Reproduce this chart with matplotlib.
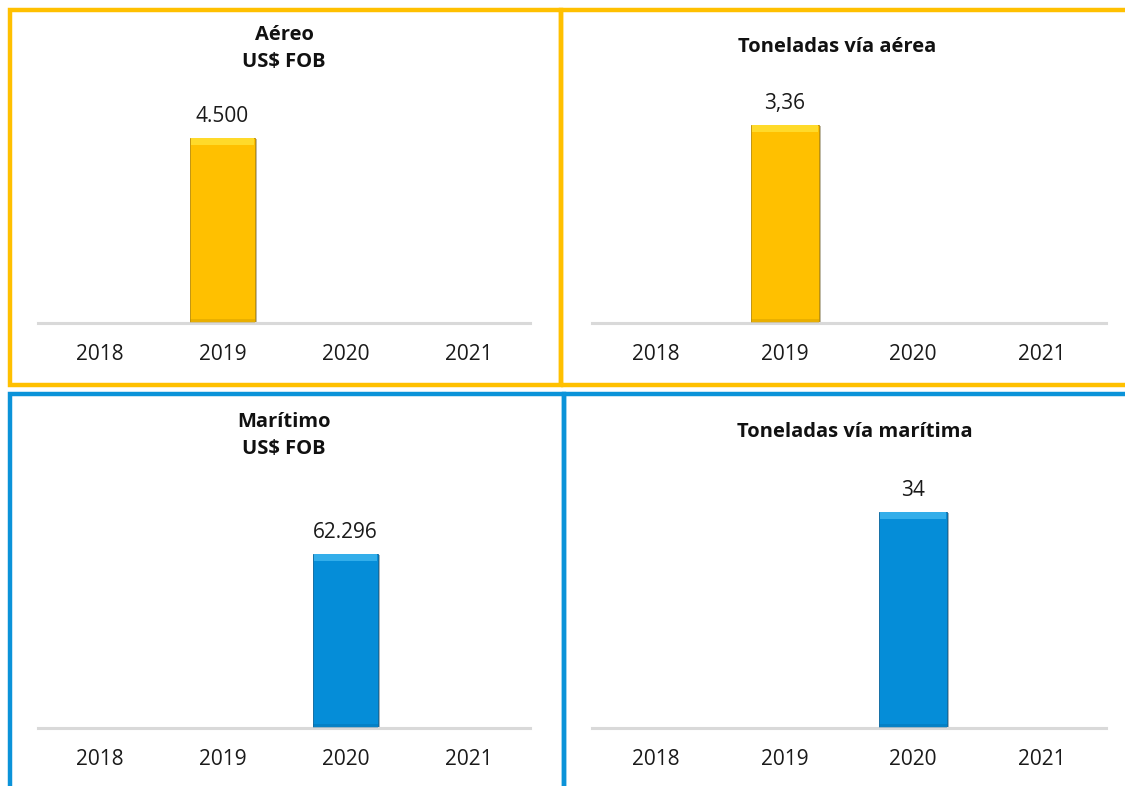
import matplotlib.pyplot as plt
from matplotlib.patches import Rectangle
import matplotlib.patheffects as pe

plt.rcParams['font.family'] = ['Open Sans', 'DejaVu Sans']

W, H = 1125, 786

years = ["2018", "2019", "2020", "2021"]
aereo_usd = [0, 4500, 0, 0]
aereo_ton = [0, 3.36, 0, 0]
maritimo_usd = [0, 0, 62296, 0]
maritimo_ton = [0, 0, 34, 0]

aereo_usd_labels = ["", "4.500", "", ""]
aereo_ton_labels = ["", "3,36", "", ""]
maritimo_usd_labels = ["", "", "62.296", ""]
maritimo_ton_labels = ["", "", "34", ""]

YELLOW = "#FFC000"
YELLOW_LIGHT = "#FFDA2A"
YELLOW_DARK = "#B88A00"
BLUE = "#058DD8"
BLUE_LIGHT = "#33AEEA"
BLUE_DARK = "#04629A"
ORANGE_FRAME = "#FFC000"
BLUE_FRAME = "#0B93D9"


def fig_rect(x0, y0, x1, y1):
    """ pixel box (top-left origin) -> figure fraction rect """
    return [x0 / W, 1 - y1 / H, (x1 - x0) / W, (y1 - y0) / H]


def draw_panel(fig, box, values, labels, color, light, dark, ymax):
    ax = fig.add_axes(fig_rect(*box))
    x = range(len(years))
    bars = ax.bar(x, values, width=0.53, color=color, edgecolor=dark, linewidth=0.6, zorder=2)
    for b in bars:
        b.set_path_effects([pe.SimplePatchShadow(offset=(1.5, -1), alpha=0.35), pe.Normal()])
    # bevel highlight on the top of each bar
    bevel = ymax * 0.03
    for xi, v in zip(x, values):
        if v > 0:
            ax.bar(xi, bevel, bottom=v - bevel, width=0.51, color=light, linewidth=0, zorder=3)
            ax.bar(xi, bevel * 0.5, bottom=0, width=0.53, color=dark, alpha=0.3, linewidth=0, zorder=3)
    for xi, v, lab in zip(x, values, labels):
        if lab:
            ax.annotate(lab, (xi, v), xytext=(0, 8), textcoords="offset points",
                        ha="center", va="bottom", fontsize=15, color="#1a1a1a")
    ax.set_xlim(-0.5, 3.5)
    ax.set_ylim(0, ymax)
    ax.set_xticks(list(x))
    ax.set_xticklabels(years, fontsize=15, color="#1a1a1a")
    ax.tick_params(axis="x", length=0, pad=15)
    ax.set_yticks([])
    for s in ["top", "right", "left"]:
        ax.spines[s].set_visible(False)
    ax.spines["bottom"].set_color("#D9D9D9")
    ax.spines["bottom"].set_linewidth(2.2)
    ax.patch.set_alpha(0)
    return ax


fig = plt.figure(figsize=(W / 100, H / 100), dpi=100)

# panel frames
frames = [
    ((9.5, 10, 561, 385), ORANGE_FRAME),
    ((561, 10, 1135, 385), ORANGE_FRAME),
    ((10, 393.5, 564, 800), BLUE_FRAME),
    ((564, 393.5, 1135, 800), BLUE_FRAME),
]
for (x0, y0, x1, y1), c in frames:
    fig.patches.append(Rectangle((x0 / W, 1 - y1 / H), (x1 - x0) / W, (y1 - y0) / H,
                                 transform=fig.transFigure, fill=False, edgecolor=c,
                                 linewidth=3.2, zorder=0))

draw_panel(fig, (38, 80, 530, 323), aereo_usd, aereo_usd_labels, YELLOW,
           YELLOW_LIGHT, YELLOW_DARK, 4500 * 243 / 185)
draw_panel(fig, (592, 80, 1106, 323), aereo_ton, aereo_ton_labels, YELLOW,
           YELLOW_LIGHT, YELLOW_DARK, 3.36 * 243 / 198)
draw_panel(fig, (38, 485, 530, 728), maritimo_usd, maritimo_usd_labels, BLUE,
           BLUE_LIGHT, BLUE_DARK, 62296 * 243 / 174)
draw_panel(fig, (592, 485, 1106, 728), maritimo_ton, maritimo_ton_labels, BLUE,
           BLUE_LIGHT, BLUE_DARK, 34 * 243 / 216)

# titles
title_kw = dict(ha="center", va="center", fontsize=14.5, fontweight="bold", color="#111111")
fig.text(284 / W, 1 - 35 / H, "Aéreo", **title_kw)
fig.text(284 / W, 1 - 62 / H, "US$ FOB", **title_kw)
fig.text(837 / W, 1 - 47 / H, "Toneladas vía aérea", **title_kw)
fig.text(284 / W, 1 - 422 / H, "Marítimo", **title_kw)
fig.text(284 / W, 1 - 449 / H, "US$ FOB", **title_kw)
fig.text(855 / W, 1 - 432 / H, "Toneladas vía marítima", **title_kw)

fig.savefig("out.png", dpi=100)
